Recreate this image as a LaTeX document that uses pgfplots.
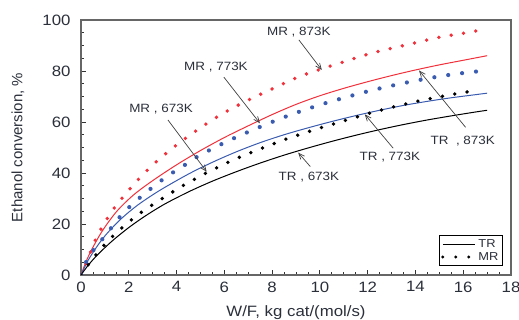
\documentclass[border=0pt]{standalone}
\usepackage{fontspec}
\setmainfont{Liberation Sans}[FakeStretch=1.12]
\newfontfamily\ylabfont{Liberation Sans}
\usepackage{pgfplots}
\pgfplotsset{compat=1.18}
\usetikzlibrary{arrows.meta}
\definecolor{cred}{HTML}{F0303A}
\definecolor{cblue}{HTML}{3A5CB0}
\definecolor{ctxt}{HTML}{2A2F3A}
\begin{document}
\begin{tikzpicture}
\begin{axis}[
  scale only axis, width=430pt, height=255pt,
  xmin=0, xmax=18, ymin=0, ymax=100,
  xtick={0,2,...,18}, ytick={0,20,...,100},
  minor x tick num=3, minor y tick num=3,
  tick pos=left, tick align=inside,
  major tick length=5pt, minor tick length=3pt,
  axis line style={black!60, line width=1.1pt},
  every tick/.style={black!80, line width=0.8pt},
  tick label style={font=\fontsize{15}{18}\selectfont, text=ctxt},
  xticklabel style={yshift=-3pt},
  yticklabel style={xshift=-7pt},
  /pgf/number format/assume math mode=true,
  xlabel={W/F, kg cat/(mol/s)},
  ylabel={\ylabfont Ethanol conversion, \%},
  xlabel style={at={(axis description cs:0.5,-0.149)}, anchor=center, font=\fontsize{15}{18}\selectfont, text=ctxt},
  ylabel style={at={(axis description cs:-0.1465,0.5)}, anchor=center, font=\fontsize{15}{18}\selectfont, text=ctxt},
  legend style={at={(0.981,0.035)}, anchor=south east, font=\fontsize{11.5}{13}\selectfont, draw=black, line width=0.8pt, inner sep=2pt, row sep=-1pt, text=ctxt},
  legend cell align=left,
  legend image code/.code={\draw[#1] (0pt,0pt) -- (32pt,0pt);},
  mr/.style={dash pattern=on 0pt off 12.5pt, line cap=round, line width=3.8pt},
  tr/.style={line width=1pt},
]
\addlegendimage{black, tr}
\addlegendentry{TR}
\addlegendimage{black, line cap=round, line width=3.2pt, dash pattern=on 0pt off 13pt}
\addlegendentry{MR}

% TR curves
\addplot[cred, tr, smooth, forget plot] coordinates {
(0,0) (0.2,5.0) (0.45,10.0) (0.9,17.4) (1.5,25.0) (2.2,31.4) (3,37.0) (4,43.2) (5,48.8) (6,53.9) (7,58.5) (8,62.9) (9,66.9) (10,70.3) (11,73.2) (12,75.8) (13,78.2) (14,80.4) (15,82.4) (16,84.2) (17,86.0)};
\addplot[cblue, tr, smooth, forget plot] coordinates {
(0,0) (0.3,5.8) (0.7,11.6) (1.1,16.4) (1.7,22.2) (2.4,27.6) (3.3,33.2) (4.5,39.6) (5.5,44.2) (6.5,48.3) (7.5,51.9) (8.5,55.0) (9.5,57.7) (10.5,60.2) (11.5,62.5) (12.5,64.6) (13.5,66.5) (14.5,68.1) (15.5,69.5) (16.5,70.7) (17,71.3)};
\addplot[black, tr, smooth, forget plot] coordinates {
(0,0) (0.3,3.8) (0.7,8.0) (1.3,13.3) (2,18.6) (2.7,23.2) (3.5,27.8) (4.5,32.6) (5.5,36.8) (6.5,40.5) (7.5,43.9) (8.5,47.0) (9.5,49.8) (10.5,52.4) (11.5,54.8) (12.5,57.0) (13.5,59.0) (14.5,60.8) (15.5,62.4) (16.5,63.9) (17,64.6)};

% MR curves
\addplot[cred, mr, smooth, forget plot] coordinates {
(0,0) (0.24,5.2) (0.66,14.9) (1.28,24.8) (2.12,34.6) (3.03,43.4) (3.96,50.7) (4.98,57.6) (5.95,63.4) (7.0,68.6) (8.08,73.3) (9.13,77.8) (10.2,81.2) (11.1,83.9) (12.05,86.7) (13.0,88.9) (13.97,91) (14.98,93.2) (16.0,94.8) (16.7,96)};
\addplot[cblue, mr, smooth, forget plot, dash pattern=on 0pt off 14pt, line width=4.2pt] coordinates {
(0,0) (0.31,7) (0.7,11.8) (1.12,16.7) (1.6,22.5) (2.12,27.5) (2.68,32) (3.24,36.2) (3.83,40.1) (4.39,43.4) (4.98,47) (6.23,52.9) (7.45,57.9) (8.65,62.4) (9.89,66.4) (11.05,69.6) (12.12,72.3) (13.28,74.8) (14.46,77) (15.65,78.8) (16.86,80.1)};
\addplot[black, mr, smooth, forget plot] coordinates {
(0,0) (0.42,5.5) (0.79,9.8) (1.25,14.5) (1.74,18.7) (2.23,22.5) (2.72,25.9) (3.24,29) (3.74,32) (4.24,34.9) (4.74,37.5) (5.3,40.3) (6.37,45.1) (7.46,49.3) (8.56,53.2) (9.65,56.6) (10.67,59.5) (12.06,63.4) (13.03,65.8) (14.02,68) (15.02,69.9) (16.03,71.6) (16.6,72.4)};

% annotations
\begin{scope}[every node/.style={font=\fontsize{12}{14}\selectfont, text=ctxt}]
\draw[black!75, line width=0.7pt, -{Straight Barb[length=6pt,width=5pt]}] (axis cs:9.12,92.2) -- (axis cs:10.08,80.4);
\node at (axis cs:9.12,95.3) {MR , 873K};
\draw[black!75, line width=0.7pt, -{Straight Barb[length=6pt,width=5pt]}] (axis cs:5.98,77.6) -- (axis cs:7.49,59.5);
\node at (axis cs:5.65,81.6) {MR , 773K};
\draw[black!75, line width=0.7pt, -{Straight Barb[length=6pt,width=5pt]}] (axis cs:3.64,60.8) -- (axis cs:5.26,40.5);
\node at (axis cs:3.35,65.1) {MR , 673K};
\draw[black!75, line width=0.7pt, -{Straight Barb[length=6pt,width=5pt]}] (axis cs:9.6,42.5) -- (axis cs:9.09,48.0);
\node at (axis cs:9.54,38.4) {TR , 673K};
\draw[black!75, line width=0.7pt, -{Straight Barb[length=6pt,width=5pt]}] (axis cs:13.07,49.7) -- (axis cs:11.88,63.0);
\node at (axis cs:12.93,46.3) {TR , 773K};
\draw[black!75, line width=0.7pt, -{Straight Barb[length=6pt,width=5pt]}] (axis cs:16.1,57.9) -- (axis cs:14.15,80.2);
\node at (axis cs:15.98,52.5) {TR \ , 873K};
\end{scope}
\end{axis}
\pgfresetboundingbox
\useasboundingbox (-81pt,-45pt) rectangle (438pt,275pt);
\end{tikzpicture}
\end{document}
